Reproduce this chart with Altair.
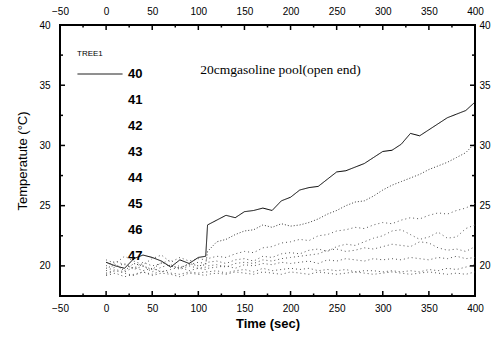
import altair as alt
import pandas as pd

# ---- data ----
times = [0, 10, 20, 30, 40, 50, 60, 70, 80, 90, 100, 108,
         110, 120, 130, 140, 150, 160, 170, 180, 190, 200,
         210, 220, 230, 240, 250, 260, 270, 280, 290, 300,
         310, 320, 330, 340, 350, 360, 370, 380, 390, 400]

s40 = [20.3, 20.0, 19.8, 20.6, 20.9, 20.7, 20.4, 19.9, 20.5, 20.2, 20.7, 20.8,
       23.4, 23.8, 24.2, 24.0, 24.5, 24.6, 24.8, 24.6, 25.4, 25.7,
       26.3, 26.5, 26.6, 27.2, 27.8, 27.9, 28.2, 28.5, 29.0, 29.5,
       29.6, 30.1, 31.0, 30.8, 31.3, 31.8, 32.3, 32.6, 32.9, 33.6]
s41 = [19.8, 20.1, 19.6, 20.2, 20.0, 19.7, 20.3, 20.0, 19.8, 20.2, 20.0, 20.1,
       21.2, 22.0, 22.2, 22.6, 22.9, 23.0, 23.4, 23.2, 23.5, 23.3,
       23.4, 23.6, 23.9, 24.3, 24.6, 25.0, 25.3, 25.4, 25.8, 26.3,
       26.7, 27.0, 27.3, 27.6, 28.0, 28.3, 28.6, 29.0, 29.4, 30.2]
s42 = [20.5, 20.2, 20.8, 20.4, 20.1, 20.6, 20.9, 20.3, 20.7, 20.4, 20.6, 20.5,
       20.6, 20.8, 20.7, 21.0, 21.2, 21.1, 21.5, 21.6, 21.9, 22.0,
       22.2, 22.1, 22.5, 22.6, 22.9, 23.0, 23.2, 23.1, 23.4, 23.6,
       23.5, 23.8, 24.0, 23.9, 24.2, 24.4, 24.3, 24.6, 24.8, 25.2]
s43 = [20.0, 20.4, 20.1, 19.8, 20.3, 20.0, 20.2, 20.5, 19.9, 20.1, 20.3, 20.2,
       20.3, 20.4, 20.2, 20.5, 20.6, 20.4, 20.8, 20.7, 21.0, 21.1,
       21.0, 21.3, 21.4, 21.2, 21.6, 21.8, 21.7, 22.0, 22.3, 22.5,
       22.9, 23.0, 22.6, 22.2, 22.4, 22.8, 22.3, 22.4, 23.1, 23.4]
s44 = [19.6, 19.9, 20.2, 19.7, 20.0, 19.5, 19.9, 20.1, 19.7, 20.0, 19.8, 19.9,
       20.0, 20.1, 19.9, 20.2, 20.3, 20.2, 20.5, 20.4, 20.6, 20.7,
       20.8, 20.9, 21.0, 21.3, 21.4, 21.2, 21.3, 21.5, 21.4, 21.6,
       21.8, 21.7, 21.6, 22.0, 21.9, 21.5, 21.3, 21.4, 21.2, 21.6]
s45 = [19.4, 19.7, 19.5, 19.9, 19.6, 19.8, 19.5, 19.7, 19.9, 19.6, 19.8, 19.7,
       19.8, 19.9, 20.0, 19.8, 20.1, 20.0, 20.2, 20.1, 20.3, 20.2,
       20.3, 20.4, 20.2, 20.5, 20.4, 20.6, 20.5, 20.4, 20.6, 20.5,
       20.6, 20.5, 20.7, 20.6, 20.5, 20.7, 20.6, 20.8, 20.6, 20.7]
s46 = [19.3, 19.6, 19.4, 19.2, 19.5, 19.3, 19.6, 19.4, 19.3, 19.5, 19.4, 19.5,
       19.5, 19.6, 19.4, 19.6, 19.7, 19.5, 19.8, 19.6, 19.7, 19.8,
       19.7, 19.8, 19.6, 19.7, 19.6, 19.7, 19.5, 19.6, 19.6, 19.5,
       19.6, 19.5, 19.6, 19.5, 19.7, 19.6, 19.8, 19.7, 19.9, 20.1]
s47 = [19.2, 19.4, 19.1, 19.3, 19.5, 19.2, 19.4, 19.3, 19.1, 19.4, 19.3, 19.2,
       19.3, 19.4, 19.3, 19.5, 19.4, 19.3, 19.5, 19.4, 19.3, 19.5,
       19.4, 19.3, 19.5, 19.4, 19.3, 19.4, 19.5, 19.4, 19.3, 19.4,
       19.5, 19.4, 19.3, 19.4, 19.5, 19.4, 19.3, 19.4, 19.3, 19.5]

series_names = ["40", "41", "42", "43", "44", "45", "46", "47"]
series_vals = [s40, s41, s42, s43, s44, s45, s46, s47]
series_colors = ["#000000", "#3a3a3a", "#555555", "#555555", "#555555", "#555555", "#555555", "#555555"]
series_dash = [[1, 0], [1, 2], [1, 3], [1, 3], [1, 3], [1, 3], [1, 3], [1, 3]]

x_ticks = [-50, 0, 50, 100, 150, 200, 250, 300, 350, 400]
x_minor = [-25, 25, 75, 125, 175, 225, 275, 325, 375]
y_ticks = [20, 25, 30, 35, 40]
y_minor = [17.5, 22.5, 27.5, 32.5, 37.5]

note_text = ["20cmgasoline pool(open end)"]
note_t = [102]
note_T = [36.3]

rows = []
for name, vals in zip(series_names, series_vals):
    for t, v in zip(times, vals):
        rows.append({"t": t, "T": v, "probe": name})
df = pd.DataFrame(rows)
note_df = pd.DataFrame({"t": note_t, "T": note_T, "label": note_text})

W, H = 415, 271
X0, X1, Y0, Y1 = -50, 400, 17.5, 40
FONT = "Liberation Sans"
xs = alt.Scale(domain=[X0, X1], nice=False, zero=False)
ys = alt.Scale(domain=[Y0, Y1], nice=False, zero=False)

lab = dict(labelFont=FONT, labelFontSize=10, labelColor="#000", grid=False,
           domain=False, labelFlush=False, labelOverlap=False)

legend_kw = dict(orient="none", legendX=17, legendY=25, title="TREE1",
                 titleFont=FONT, titleFontSize=8, titleFontWeight="normal",
                 titleColor="#000", labelFont=FONT, labelFontSize=13,
                 labelFontWeight="bold", labelColor="#000", symbolType="stroke",
                 symbolSize=2025, symbolStrokeWidth=1, rowPadding=6, clipHeight=20,
                 labelOffset=5, padding=0, titlePadding=6,
                 symbolOpacity=alt.ExprRef(expr="datum.value === '40' ? 1 : 0"))

# data layer with bottom / left labelled axes
lines = alt.Chart(df).mark_line(strokeWidth=1, clip=True).encode(
    x=alt.X("t:Q", scale=xs, axis=alt.Axis(orient="bottom", values=x_ticks, ticks=False, tickSize=0,
                                           labelPadding=7, title="Time (sec)", titleFont=FONT,
                                           titleFontSize=13, titleFontWeight="bold", titlePadding=4,
                                           titleColor="#000", **lab)),
    y=alt.Y("T:Q", scale=ys, axis=alt.Axis(orient="left", values=y_ticks, ticks=False, tickSize=0,
                                           labelPadding=10, title="Temperatute (°C)", titleFont=FONT,
                                           titleFontSize=13, titleFontWeight="normal", titlePadding=9,
                                           titleColor="#000", **lab)),
    color=alt.Color("probe:N", scale=alt.Scale(domain=series_names, range=series_colors),
                    legend=alt.Legend(**legend_kw)),
    strokeDash=alt.StrokeDash("probe:N", scale=alt.Scale(domain=series_names, range=series_dash),
                              legend=alt.Legend(**legend_kw)),
    detail="probe:N",
)

# top / right labelled axes
top_right = alt.Chart(df).mark_point(opacity=0).encode(
    x=alt.X("t:Q", scale=xs, axis=alt.Axis(orient="top", values=x_ticks, ticks=False, tickSize=0,
                                           labelPadding=9, title=None, **lab)),
    y=alt.Y("T:Q", scale=ys, axis=alt.Axis(orient="right", values=y_ticks, ticks=False, tickSize=0,
                                           labelPadding=4, title=None, **lab)),
)

# inward tick marks on all four edges, as short segments in data units
px_x = (X1 - X0) / W      # data units per pixel, horizontally
px_y = (Y1 - Y0) / H      # data units per pixel, vertically
segs = []
for vals, ln in ((x_ticks, 5), (x_minor, 2.5)):
    for v in vals:
        segs.append({"a": v, "a2": v, "b": Y0, "b2": Y0 + ln * px_y})
        segs.append({"a": v, "a2": v, "b": Y1, "b2": Y1 - ln * px_y})
for vals, ln in ((y_ticks, 5), (y_minor, 3)):
    for v in vals:
        segs.append({"a": X0, "a2": X0 + ln * px_x, "b": v, "b2": v})
        segs.append({"a": X1, "a2": X1 - ln * px_x, "b": v, "b2": v})
tick_df = pd.DataFrame(segs)

ticks = alt.Chart(tick_df).mark_rule(color="#000", strokeWidth=1.5).encode(
    x=alt.X("a:Q", scale=xs, axis=None), x2="a2:Q",
    y=alt.Y("b:Q", scale=ys, axis=None), y2="b2:Q",
)

note = alt.Chart(note_df).mark_text(font="Liberation Serif", fontSize=13.5, align="left",
                                    baseline="middle", color="#000").encode(
    x=alt.X("t:Q", scale=xs, axis=None),
    y=alt.Y("T:Q", scale=ys, axis=None),
    text="label:N",
)

chart = alt.layer(lines, top_right, ticks, note).resolve_axis(
    x="independent", y="independent"
).properties(
    width=W, height=H,
    autosize=alt.AutoSizeParams(type="none"),
    padding={"left": 60, "top": 25, "right": 19, "bottom": 46},
    background="white",
).configure_view(stroke="#000", strokeWidth=2)

chart.save("out.html", embed_options={"renderer": "svg", "actions": False})
